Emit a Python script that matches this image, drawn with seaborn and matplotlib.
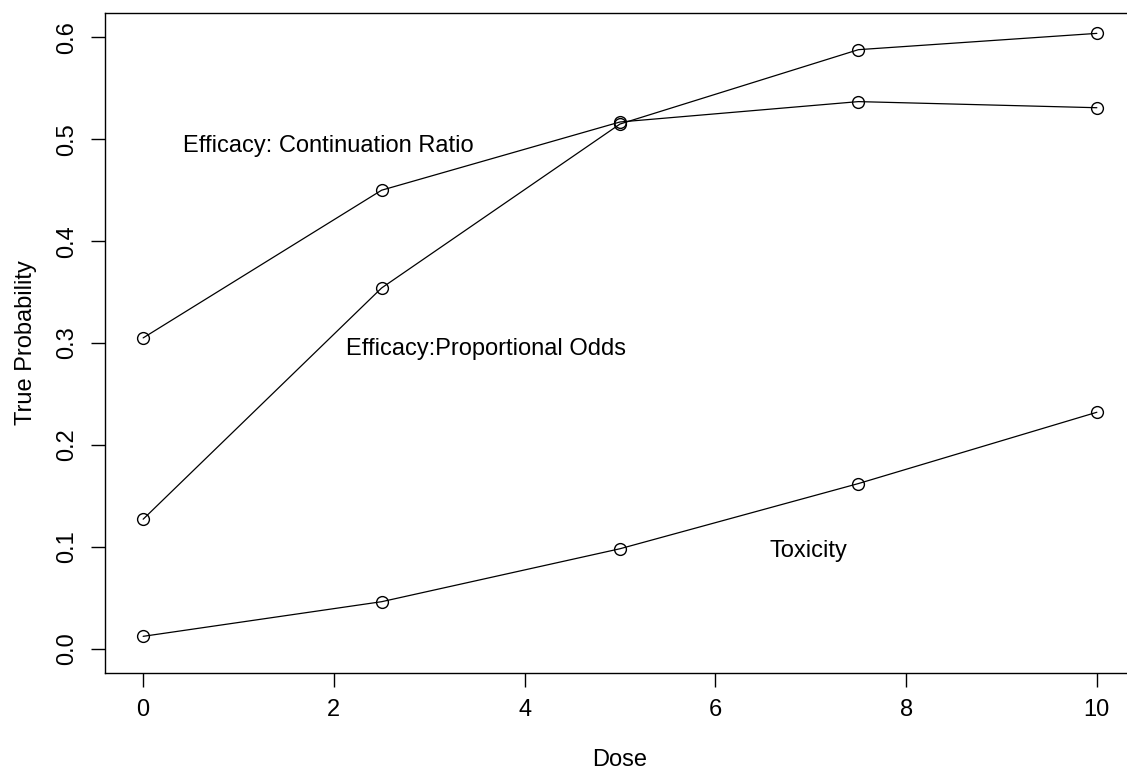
import matplotlib
matplotlib.use("Agg")
import matplotlib.pyplot as plt
import seaborn as sns
import pandas as pd

dose = [0, 2.5, 5, 7.5, 10]
eff_cr = [0.305, 0.450, 0.517, 0.537, 0.531]
eff_po = [0.127, 0.354, 0.515, 0.588, 0.604]
toxicity = [0.012, 0.046, 0.098, 0.162, 0.232]

labels = ["Efficacy: Continuation Ratio", "Efficacy:Proportional Odds", "Toxicity"]
label_pos = [(1.94, 0.493), (3.6, 0.294), (6.98, 0.096)]

sns.set_style("white")
plt.rcParams['font.family'] = ['Liberation Sans', 'DejaVu Sans']
plt.rcParams['text.color'] = 'black'
plt.rcParams['axes.labelcolor'] = 'black'
plt.rcParams['xtick.color'] = 'black'
plt.rcParams['ytick.color'] = 'black'

FS = 17.0

fig = plt.figure(figsize=(11.27, 7.73), dpi=100)
W, H = 1127, 773
ax = fig.add_axes([105 / W, 100 / H, (1135 - 105) / W, (673 - 13) / H])

for series in (eff_cr, eff_po, toxicity):
    df = pd.DataFrame({"Dose": dose, "p": series})
    sns.lineplot(data=df, x="Dose", y="p", ax=ax, color="black", linewidth=0.9,
                 marker="o", markersize=8.5, markerfacecolor="none",
                 markeredgecolor="black", markeredgewidth=1.0)

for txt, (x, y) in zip(labels, label_pos):
    ax.text(x, y, txt, ha="center", va="center", fontsize=FS, color="black")

ax.set_xlim(-0.4, 10.4)
ax.set_ylim(-0.024, 0.624)
ax.set_xticks([0, 2, 4, 6, 8, 10])
ax.set_xticklabels(["0", "2", "4", "6", "8", "10"])
ax.set_yticks([0.0, 0.1, 0.2, 0.3, 0.4, 0.5, 0.6])
ax.set_yticklabels(["0.0", "0.1", "0.2", "0.3", "0.4", "0.5", "0.6"], rotation=90, va="center")
ax.tick_params(axis="both", direction="out", length=10, width=1, color="black",
               labelsize=FS, pad=9, bottom=True, left=True, labelcolor="black")
for s in ax.spines.values():
    s.set_color("black")
    s.set_linewidth(1.0)
ax.set_xlabel("Dose", fontsize=FS, labelpad=20, color="black")
ax.set_ylabel("True Probability", fontsize=FS, labelpad=14, color="black")

fig.savefig("out.png", dpi=100)
